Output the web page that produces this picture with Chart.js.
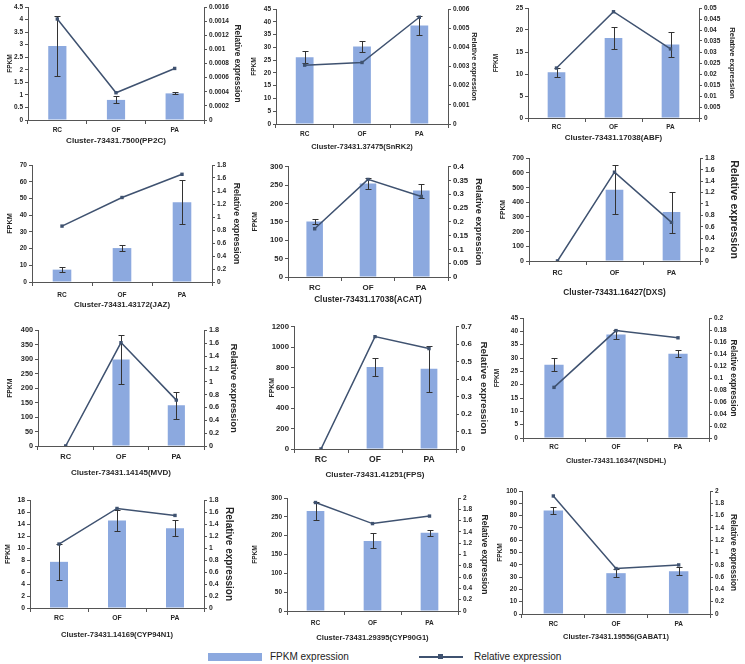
<!DOCTYPE html>
<html><head><meta charset="utf-8">
<script src="https://cdn.jsdelivr.net/npm/chart.js@4.4.0/dist/chart.umd.min.js"></script>
<style>
html,body{margin:0;padding:0;background:#fff;}
#wrap{position:relative;width:745px;height:664px;overflow:hidden;font-family:"Liberation Sans",Arial,sans-serif;}
#wrap canvas{position:absolute;}
.lgt{position:absolute;font-size:10px;line-height:12px;color:#222;white-space:nowrap;}
.lgs{position:absolute;}
</style></head><body><div id="wrap"></div>
<script>
// ---------------- DATA ----------------
const categories = ['RC', 'OF', 'PA'];

const PP2C_fpkm = [2.95, 0.80, 1.06];
const PP2C_err  = [1.18, 0.14, 0.04];
const PP2C_rel  = [0.00143, 0.000386, 0.00073];

const SnRK2_fpkm = [26.1, 30.3, 38.5];
const SnRK2_err  = [2.4, 2.3, 3.8];
const SnRK2_rel  = [0.00307, 0.00321, 0.00557];

const ABF_fpkm = [10.4, 18.2, 16.7];
const ABF_err  = [1.0, 2.45, 2.95];
const ABF_rel  = [0.0227, 0.0483, 0.0314];

const JAZ_fpkm = [7.4, 20.3, 47.7];
const JAZ_err  = [1.6, 1.6, 13.2];
const JAZ_rel  = [0.86, 1.30, 1.657];

const ACAT_fpkm = [151, 254, 235];
const ACAT_err  = [8, 15, 19];
const ACAT_rel  = [0.175, 0.354, 0.292];

const DXS_fpkm = [0, 485, 333];
const DXS_err  = [0, 168, 140];
const DXS_rel  = [0, 1.555, 0.676];

const MVD_fpkm = [0, 299, 141];
const MVD_err  = [0, 85, 46];
const MVD_rel  = [0, 1.61, 0.714];

const FPS_fpkm = [0, 804, 788];
const FPS_err  = [0, 88, 224];
const FPS_rel  = [0, 0.643, 0.575];

const NSDHL_fpkm = [27.5, 38.8, 31.6];
const NSDHL_err  = [2.5, 1.75, 1.25];
const NSDHL_rel  = [0.0844, 0.179, 0.167];

const CYP94N1_fpkm = [7.7, 14.6, 13.3];
const CYP94N1_err  = [2.95, 1.8, 1.35];
const CYP94N1_rel  = [1.067, 1.66, 1.544];

const CYP90G1_fpkm = [265.6, 186, 208];
const CYP90G1_err  = [23, 20, 8];
const CYP90G1_rel  = [1.92, 1.547, 1.68];

const GABAT1_fpkm = [84.1, 33.2, 34.8];
const GABAT1_err  = [3.1, 3.2, 3.2];
const GABAT1_rel  = [1.919, 0.739, 0.798];

const geneTitles = [
  'Cluster-73431.7500(PP2C)', 'Cluster-73431.37475(SnRK2)', 'Cluster-73431.17038(ABF)',
  'Cluster-73431.43172(JAZ)', 'Cluster-73431.17038(ACAT)', 'Cluster-73431.16427(DXS)',
  'Cluster-73431.14145(MVD)', 'Cluster-73431.41251(FPS)', 'Cluster-73431.16347(NSDHL)',
  'Cluster-73431.14169(CYP94N1)', 'Cluster-73431.29395(CYP90G1)', 'Cluster-73431.19556(GABAT1)'
];
const fpkmMax  = [4.5, 45, 25, 70, 300, 700, 400, 1200, 45, 18, 300, 100];
const fpkmStep = [0.5, 5, 5, 10, 50, 100, 50, 200, 5, 2, 50, 10];
const relMax   = [0.0016, 0.006, 0.05, 1.8, 0.4, 1.8, 1.8, 0.7, 0.2, 1.8, 2, 2];
const relStep  = [0.0002, 0.001, 0.005, 0.2, 0.05, 0.2, 0.2, 0.1, 0.02, 0.2, 0.2, 0.2];

const fpkmSeries = [PP2C_fpkm, SnRK2_fpkm, ABF_fpkm, JAZ_fpkm, ACAT_fpkm, DXS_fpkm, MVD_fpkm, FPS_fpkm, NSDHL_fpkm, CYP94N1_fpkm, CYP90G1_fpkm, GABAT1_fpkm];
const errSeries  = [PP2C_err, SnRK2_err, ABF_err, JAZ_err, ACAT_err, DXS_err, MVD_err, FPS_err, NSDHL_err, CYP94N1_err, CYP90G1_err, GABAT1_err];
const relSeries  = [PP2C_rel, SnRK2_rel, ABF_rel, JAZ_rel, ACAT_rel, DXS_rel, MVD_rel, FPS_rel, NSDHL_rel, CYP94N1_rel, CYP90G1_rel, GABAT1_rel];

// ---------------- LAYOUT / STYLE ----------------
// L,R,T,B: plot area; fx/rx: centres of left/right axis titles; ly: category label y; ty: title y
const panels = [
  {L:28, R:204, T:7,   B:120, fx:10,  rx:237, ly:130, ty:141, tk:6.5, ck:6.5, fs:6.5, rs:8.3, ts:8.1},
  {L:276,R:448, T:9,   B:124, fx:254, rx:474, ly:134, ty:146, tk:6.5, ck:6.5, fs:6.5, rs:7.3, ts:7.5},
  {L:528,R:699, T:8,   B:118, fx:496, rx:732, ly:127, ty:138, tk:6.5, ck:6.5, fs:6.5, rs:7.6, ts:7.9},
  {L:32, R:212, T:165, B:282, fx:10,  rx:237, ly:295, ty:305, tk:6.6, ck:6.5, fs:7.3, rs:8.7, ts:7.9},
  {L:288,R:448, T:166, B:277, fx:255, rx:478, ly:288, ty:300, tk:7.8, ck:8,   fs:6.8, rs:9.3, ts:8.3},
  {L:529,R:700, T:158, B:261, fx:503, rx:734, ly:273, ty:293, tk:7,   ck:7,   fs:6.8, rs:10.5,ts:8.3},
  {L:38, R:204, T:330, B:446, fx:10,  rx:233, ly:457, ty:473, tk:7.3, ck:7.5, fs:6.8, rs:9.5, ts:8},
  {L:294,R:456, T:326, B:449, fx:272, rx:484, ly:460, ty:475, tk:7.8, ck:8.5, fs:6.8, rs:9.9, ts:8.1},
  {L:523,R:709, T:318, B:438, fx:497, rx:733, ly:447, ty:461, tk:6.5, ck:6.5, fs:6.5, rs:8.2, ts:7.3},
  {L:30, R:204, T:500, B:608, fx:8,   rx:229, ly:618, ty:634, tk:6.8, ck:6.8, fs:7,   rs:10,  ts:7.6},
  {L:287,R:458, T:498, B:611, fx:255, rx:484, ly:623, ty:637, tk:6.5, ck:6.5, fs:6.5, rs:8.5, ts:7.6},
  {L:522,R:710, T:491, B:614, fx:500, rx:733, ly:624, ty:637, tk:6.5, ck:6.5, fs:6.5, rs:8.2, ts:7.4}
];
const BAR_COLOR = '#8CA9DF';
const LINE_COLOR = '#3F5270';
const AXIS_COLOR = '#555555';
const TEXT_COLOR = '#262626';
const FONT = '"Liberation Sans", Arial, sans-serif';

const errPlugin = {
  id: 'errbars',
  afterDatasetDraw(chart, args) {
    const ds = chart.data.datasets[args.index];
    if (!ds.errors) return;
    const ys = chart.scales[ds.yAxisID];
    const ctx = chart.ctx;
    ctx.save();
    ctx.strokeStyle = '#333';
    ctx.lineWidth = 1;
    args.meta.data.forEach((bar, j) => {
      const e = ds.errors[j];
      if (!e) return;
      const v = ds.data[j];
      const x = Math.round(bar.x) + 0.5;
      const yt = Math.round(ys.getPixelForValue(v + e)) + 0.5;
      const yb = Math.round(ys.getPixelForValue(v - e)) + 0.5;
      ctx.beginPath();
      ctx.moveTo(x, yt); ctx.lineTo(x, yb);
      ctx.moveTo(x - 3, yt); ctx.lineTo(x + 3, yt);
      ctx.moveTo(x - 3, yb); ctx.lineTo(x + 3, yb);
      ctx.stroke();
    });
    ctx.restore();
  }
};

const fmt = v => String(+Number(v).toFixed(6));
const wrap = document.getElementById('wrap');

panels.forEach((g, i) => {
  const lhF = g.fs * 1.2, lhR = g.rs * 1.2, lhT = g.ts * 1.2, lhC = g.ck * 1.2;
  const padTop = 6;
  const cl = Math.round(g.fx - lhF / 2);
  const cr = Math.round(g.rx + lhR / 2);
  const ct = g.T - padTop;
  const cb = Math.round(g.ty + lhT / 2);
  const leftW = g.L - cl, rightW = cr - g.R, botH = cb - g.B;
  const tickLen = 4;
  const catPad = g.ly - g.B - tickLen - lhC / 2;

  const cv = document.createElement('canvas');
  cv.width = cr - cl; cv.height = cb - ct;
  cv.style.left = cl + 'px'; cv.style.top = ct + 'px';
  cv.style.width = (cr - cl) + 'px'; cv.style.height = (cb - ct) + 'px';
  wrap.appendChild(cv);

  new Chart(cv, {
    type: 'bar',
    data: {
      labels: categories,
      datasets: [
        {type: 'line', label: 'Relative expression', data: relSeries[i], yAxisID: 'y1',
         borderColor: LINE_COLOR, backgroundColor: LINE_COLOR, borderWidth: 1.5,
         pointStyle: 'rect', pointRadius: 2.4, pointBorderWidth: 0, tension: 0, order: 0},
        {type: 'bar', label: 'FPKM expression', data: fpkmSeries[i], errors: errSeries[i], yAxisID: 'y',
         backgroundColor: BAR_COLOR, borderWidth: 0, barPercentage: 0.31, categoryPercentage: 1, order: 1}
      ]
    },
    options: {
      responsive: false, animation: false, devicePixelRatio: 1,
      layout: {padding: {top: padTop, left: 0, right: 0, bottom: 0}},
      plugins: {legend: {display: false}, tooltip: {enabled: false}},
      scales: {
        x: {
          type: 'category', offset: true,
          grid: {display: true, offset: true, drawOnChartArea: false, drawTicks: true, tickLength: tickLen, color: AXIS_COLOR},
          border: {color: AXIS_COLOR, width: 1},
          ticks: {font: {family: FONT, size: g.ck, weight: 'bold'}, color: TEXT_COLOR, padding: catPad, maxRotation: 0, autoSkip: false},
          title: {display: true, text: geneTitles[i], font: {family: FONT, size: g.ts, weight: 'bold'}, color: TEXT_COLOR, padding: 0},
          afterFit: s => { s.height = botH; }
        },
        y: {
          position: 'left', min: 0, max: fpkmMax[i],
          ticks: {stepSize: fpkmStep[i], callback: fmt, font: {family: FONT, size: g.tk, weight: 'bold'}, color: TEXT_COLOR, padding: 2},
          grid: {drawOnChartArea: false, tickLength: 3, color: AXIS_COLOR},
          border: {color: AXIS_COLOR, width: 1},
          title: {display: true, text: 'FPKM', font: {family: FONT, size: g.fs, weight: 'bold'}, color: TEXT_COLOR, padding: 0},
          afterFit: s => { s.width = leftW; }
        },
        y1: {
          position: 'right', min: 0, max: relMax[i],
          ticks: {stepSize: relStep[i], callback: fmt, font: {family: FONT, size: g.tk, weight: 'bold'}, color: TEXT_COLOR, padding: 2},
          grid: {drawOnChartArea: false, tickLength: 3, color: AXIS_COLOR},
          border: {color: AXIS_COLOR, width: 1},
          title: {display: true, text: 'Relative expression', font: {family: FONT, size: g.rs, weight: 'bold'}, color: TEXT_COLOR, padding: 0},
          afterFit: s => { s.width = rightW; }
        }
      }
    },
    plugins: [errPlugin]
  });
});

// ---------------- LEGEND ----------------
function addDiv(cls, css, text) {
  const d = document.createElement('div');
  d.className = cls;
  Object.assign(d.style, css);
  if (text) d.textContent = text;
  wrap.appendChild(d);
}
addDiv('lgs', {left: '208px', top: '653px', width: '54px', height: '8px', background: BAR_COLOR});
addDiv('lgt', {left: '270px', top: '651px'}, 'FPKM expression');
addDiv('lgs', {left: '419px', top: '656px', width: '44px', height: '1.5px', background: LINE_COLOR});
addDiv('lgs', {left: '438px', top: '654px', width: '5px', height: '5px', background: LINE_COLOR});
addDiv('lgt', {left: '474px', top: '651px'}, 'Relative expression');
</script>
</body></html>
